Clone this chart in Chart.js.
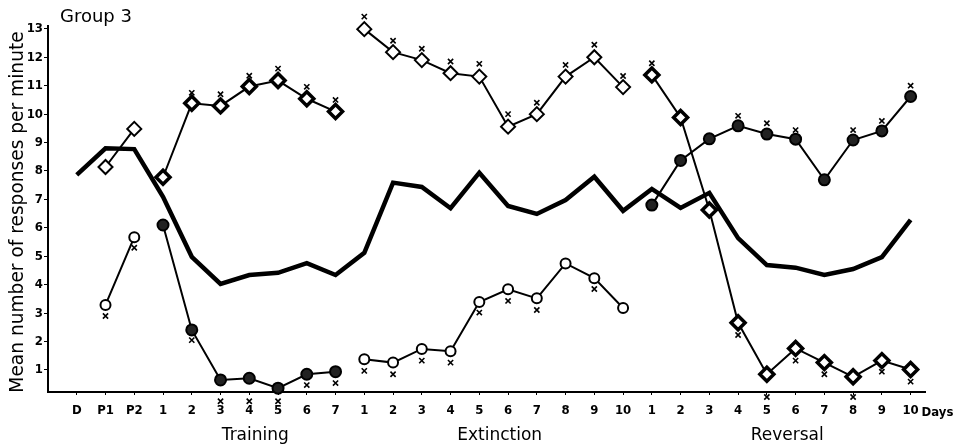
<!DOCTYPE html>
<html>
<head>
<meta charset="utf-8">
<script src="https://cdn.jsdelivr.net/npm/chart.js@4/dist/chart.umd.min.js"></script>
<style>
  html, body { margin: 0; padding: 0; background: #fff; }
  #wrap { width: 957px; height: 448px; position: relative; }
</style>
</head>
<body>
<div id="wrap"><canvas id="chart"></canvas></div>
<script>
// x positions are day indices 0..29
const dayLabels = ['D', 'P1', 'P2',
  '1', '2', '3', '4', '5', '6', '7',
  '1', '2', '3', '4', '5', '6', '7', '8', '9', '10',
  '1', '2', '3', '4', '5', '6', '7', '8', '9', '10'];
const yTicks = [1, 2, 3, 4, 5, 6, 7, 8, 9, 10, 11, 12, 13];

// heavy line
const heavyLine = [7.86, 8.8, 8.77, 7.09, 4.98, 4.03, 4.34, 4.42, 4.76, 4.34,
  5.12, 7.59, 7.44, 6.69, 7.94, 6.77, 6.49, 6.98, 7.8, 6.6,
  7.37, 6.7, 7.23, 5.64, 4.69, 4.6, 4.34, 4.55, 4.97, 6.28];

const N = null;
const openCircles = [N, 3.29, 5.67, N, N, N, N, N, N, N,
  1.38, 1.26, 1.74, 1.66, 3.39, 3.84, 3.52, 4.75, 4.23, 3.18,
  N, N, N, N, N, N, N, N, N, N];
const openDiamonds = [N, 8.14, 9.48, N, N, N, N, N, N, N,
  12.99, 12.18, 11.9, 11.44, 11.32, 9.56, 10.0, 11.32, 12.0, 10.95,
  N, N, N, N, N, N, N, N, N, N];
const filledCircles = [N, N, N, 6.1, 2.41, 0.65, 0.71, 0.36, 0.85, 0.94,
  N, N, N, N, N, N, N, N, N, N,
  6.8, 8.37, 9.13, 9.59, 9.3, 9.12, 7.69, 9.09, 9.41, 10.62];
const crossDiamonds = [N, N, N, 7.78, 10.38, 10.29, 10.97, 11.18, 10.54, 10.09,
  N, N, N, N, N, N, N, N, N, N,
  11.38, 9.88, 6.63, 2.66, 0.85, 1.76, 1.26, 0.76, 1.33, 1.02];

// small "x" marks next to points
const xMarkIndex = [1, 2,
  4, 5, 6, 7, 8, 9,
  4, 5, 6, 7, 8, 9,
  10, 11, 12, 13, 14, 15, 16, 17, 18, 19,
  10, 11, 12, 13, 14, 15, 16, 18,
  20, 23, 24, 25, 26, 27, 28, 29,
  23, 24, 25, 27, 28, 29];
const xMarkValue = [2.9, 5.3,
  2.05, -0.1, -0.1, -0.1, 0.47, 0.54,
  10.75, 10.7, 11.35, 11.6, 10.96, 10.5,
  13.43, 12.58, 12.3, 11.85, 11.77, 10.0, 10.4, 11.73, 12.44, 11.34,
  0.97, 0.85, 1.33, 1.26, 3.02, 3.43, 3.11, 3.85,
  11.79, 2.23, 0.05, 1.33, 0.85, 0.05, 0.94, 0.59,
  9.94, 9.68, 9.44, 9.44, 9.76, 11.0];

const phases = [
  { text: 'Training', from: 3, to: 9 },
  { text: 'Extinction', from: 10, to: 19 },
  { text: 'Reversal', from: 20, to: 29 }
];

const tickFont = '"DejaVu Sans Condensed", "Liberation Sans Narrow", sans-serif';
const textFont = '"DejaVu Sans", sans-serif';

function toPoints(values) {
  return values.map((v, i) => ({ x: i, y: v }));
}

function series(values, extra) {
  return Object.assign({
    data: toPoints(values),
    borderColor: '#000',
    borderWidth: 2,
    pointBorderColor: '#000',
    pointBorderWidth: 2,
    spanGaps: false,
    tension: 0,
    clip: false
  }, extra);
}

// the x marks go below the axis too, so they are drawn here from the scales
const xMarkPlugin = {
  id: 'xMarks',
  afterDatasetsDraw(chart) {
    const ctx = chart.ctx;
    const xs = chart.scales.x;
    const ys = chart.scales.y;
    const r = 2.6;
    ctx.save();
    ctx.strokeStyle = '#000';
    ctx.lineWidth = 1.6;
    xMarkIndex.forEach((idx, i) => {
      const px = xs.getPixelForValue(idx);
      const py = ys.getPixelForValue(xMarkValue[i]);
      ctx.beginPath();
      ctx.moveTo(px - r, py - r);
      ctx.lineTo(px + r, py + r);
      ctx.moveTo(px + r, py - r);
      ctx.lineTo(px - r, py + r);
      ctx.stroke();
    });
    ctx.restore();
  }
};

const textPlugin = {
  id: 'paperText',
  afterDraw(chart) {
    const ctx = chart.ctx;
    const xs = chart.scales.x;
    ctx.save();
    ctx.fillStyle = '#000';

    ctx.font = '18px ' + textFont;
    ctx.textAlign = 'left';
    ctx.textBaseline = 'middle';
    ctx.fillText('Group 3', 60, 17);

    // y axis title, fitted to the axis height
    const title = 'Mean number of responses per minute';
    let size = 17;
    ctx.font = size + 'px ' + textFont;
    size = size * 362 / ctx.measureText(title).width;
    ctx.font = size.toFixed(1) + 'px ' + textFont;
    ctx.translate(18, 212);
    ctx.rotate(-Math.PI / 2);
    ctx.textAlign = 'center';
    ctx.fillText(title, 0, 0);
    ctx.setTransform(1, 0, 0, 1, 0, 0);

    ctx.font = '17px ' + textFont;
    ctx.textAlign = 'center';
    phases.forEach(p => {
      const cx = (xs.getPixelForValue(p.from) + xs.getPixelForValue(p.to)) / 2 + 6;
      ctx.fillText(p.text, cx, 436);
    });

    ctx.font = 'bold 13px ' + tickFont;
    ctx.textAlign = 'left';
    ctx.fillText('Days', xs.getPixelForValue(29) + 11, 413);
    ctx.restore();
  }
};

new Chart(document.getElementById('chart'), {
  type: 'line',
  data: {
    datasets: [
      series(heavyLine, { borderWidth: 4.5, pointRadius: 0, order: 5 }),
      series(openCircles, { pointStyle: 'circle', pointRadius: 5, pointBackgroundColor: '#fff', order: 3 }),
      series(openDiamonds, { pointStyle: 'rectRot', pointRadius: 7, pointBackgroundColor: '#fff', order: 3 }),
      series(filledCircles, { pointStyle: 'circle', pointRadius: 5.5, pointBackgroundColor: '#222', order: 2 }),
      series(crossDiamonds, { pointStyle: 'rectRot', pointRadius: 7, pointBorderWidth: 3.5, pointBackgroundColor: '#fff', order: 1 })
    ]
  },
  options: {
    responsive: true,
    maintainAspectRatio: false,
    animation: false,
    events: [],
    layout: { padding: { left: 0, right: 32, top: 26, bottom: 0 } },
    plugins: {
      legend: { display: false },
      tooltip: { enabled: false }
    },
    scales: {
      x: {
        type: 'linear',
        min: -1,
        max: 29.5,
        afterBuildTicks: s => { s.ticks = dayLabels.map((_, i) => ({ value: i })); },
        afterFit: s => { s.height = 56; },
        border: { display: true, color: '#000', width: 2 },
        grid: { drawOnChartArea: false, drawTicks: true, tickLength: 3, color: '#000' },
        ticks: {
          autoSkip: false,
          maxRotation: 0,
          padding: 8,
          color: '#000',
          font: { family: tickFont, size: 13, weight: 'bold' },
          callback: v => dayLabels[v] ?? ''
        }
      },
      y: {
        type: 'linear',
        min: 0.226,
        max: 13.1,
        afterBuildTicks: s => { s.ticks = yTicks.map(v => ({ value: v })); },
        afterFit: s => { s.width = 48; },
        border: { display: true, color: '#000', width: 2 },
        grid: { drawOnChartArea: false, drawTicks: true, tickLength: 4, color: '#000' },
        ticks: {
          padding: 1,
          color: '#000',
          font: { family: tickFont, size: 13, weight: 'bold' },
          callback: v => String(v)
        }
      }
    }
  },
  plugins: [xMarkPlugin, textPlugin]
});
</script>
</body>
</html>
